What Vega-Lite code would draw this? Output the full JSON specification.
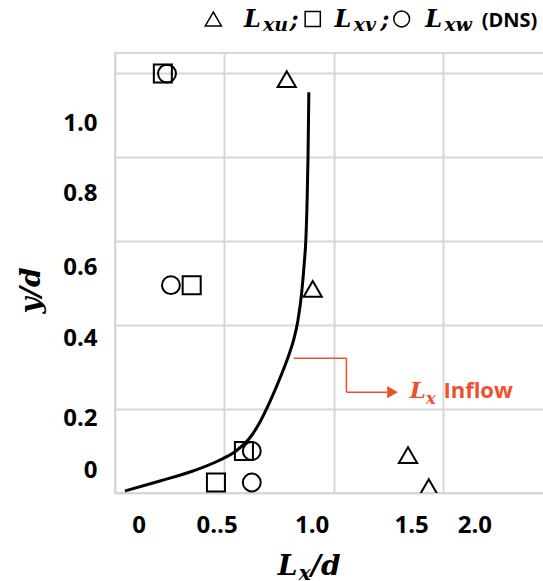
{
  "$schema": "https://vega.github.io/schema/vega-lite/v6.json",
  "width": 437,
  "height": 440,
  "autosize": "none",
  "padding": {"left": 115, "top": 53, "right": 0, "bottom": 88},
  "background": "white",
  "config": {"view": {"stroke": "#d4d8db", "strokeWidth": 2}},
  "resolve": {"axis": {"x": "independent", "y": "independent"}},
  "layer": [
    {
      "data": {"values": [
        {"Lx": 0.786, "yd": 0.986, "comp": "Lxu"},
        {"Lx": 0.905, "yd": 0.486, "comp": "Lxu"},
        {"Lx": 1.341, "yd": 0.090, "comp": "Lxu"},
        {"Lx": 1.436, "yd": 0.014, "comp": "Lxu"},
        {"Lx": 0.219, "yd": 0.999, "comp": "Lxv"},
        {"Lx": 0.351, "yd": 0.495, "comp": "Lxv"},
        {"Lx": 0.590, "yd": 0.100, "comp": "Lxv"},
        {"Lx": 0.462, "yd": 0.025, "comp": "Lxv"},
        {"Lx": 0.238, "yd": 0.999, "comp": "Lxw"},
        {"Lx": 0.256, "yd": 0.495, "comp": "Lxw"},
        {"Lx": 0.626, "yd": 0.100, "comp": "Lxw"},
        {"Lx": 0.626, "yd": 0.025, "comp": "Lxw"}
      ]},
      "mark": {"type": "point", "filled": false, "strokeWidth": 2, "color": "black", "opacity": 1, "clip": true},
      "encoding": {
        "x": {"field": "Lx", "type": "quantitative", "scale": {"domain": [0, 2], "nice": false, "zero": false},
              "axis": {"values": [0, 0.5, 1, 1.5, 2], "labels": false, "ticks": false, "domain": false, "grid": true, "gridColor": "#d4d8db", "gridWidth": 2, "title": null, "orient": "bottom"}},
        "y": {"field": "yd", "type": "quantitative", "scale": {"domain": [0, 1.048], "nice": false, "zero": false},
              "axis": {"values": [0, 0.2, 0.4, 0.6, 0.8, 1.0], "labels": false, "ticks": false, "domain": false, "grid": true, "gridColor": "#d4d8db", "gridWidth": 2, "title": null, "orient": "left"}},
        "shape": {"field": "comp", "type": "nominal", "scale": {"domain": ["Lxu", "Lxv", "Lxw"], "range": ["triangle-up", "square", "circle"]}, "legend": null},
        "size": {"field": "comp", "type": "nominal", "scale": {"domain": ["Lxu", "Lxv", "Lxw"], "range": [330, 320, 270]}, "legend": null}
      }
    },
    {
      "data": {"values": [
        {"Lx": 0.0457, "yd": 0.0048},
        {"Lx": 0.2058, "yd": 0.0286},
        {"Lx": 0.3567, "yd": 0.0524},
        {"Lx": 0.4710, "yd": 0.0762},
        {"Lx": 0.5533, "yd": 0.1000},
        {"Lx": 0.6127, "yd": 0.1286},
        {"Lx": 0.6584, "yd": 0.1643},
        {"Lx": 0.6996, "yd": 0.2071},
        {"Lx": 0.7362, "yd": 0.2500},
        {"Lx": 0.7682, "yd": 0.2905},
        {"Lx": 0.7956, "yd": 0.3286},
        {"Lx": 0.8185, "yd": 0.3667},
        {"Lx": 0.8368, "yd": 0.4095},
        {"Lx": 0.8551, "yd": 0.4810},
        {"Lx": 0.8665, "yd": 0.5500},
        {"Lx": 0.8734, "yd": 0.6024},
        {"Lx": 0.8793, "yd": 0.6976},
        {"Lx": 0.8834, "yd": 0.8000},
        {"Lx": 0.8871, "yd": 0.9548}
      ]},
      "mark": {"type": "line", "color": "black", "strokeWidth": 3, "interpolate": "monotone"},
      "encoding": {
        "x": {"field": "Lx", "type": "quantitative",
              "axis": {"orient": "bottom", "values": [0.108, 0.465, 0.9, 1.355, 1.645], "grid": false, "ticks": false, "tickSize": 0, "domain": false, "title": null,
                       "labelExpr": "datum.value < 0.2 ? '0' : datum.value < 0.6 ? '0..5' : datum.value < 1.1 ? '1.0' : datum.value < 1.5 ? '1.5' : '2.0'",
                       "labelFont": "Open Sans", "labelFontWeight": "bold", "labelFontSize": 24, "labelColor": "black", "labelPadding": 20, "labelFlush": false, "labelOverlap": false}},
        "y": {"field": "yd", "type": "quantitative",
              "axis": {"orient": "left", "values": [0.054, 0.178, 0.368, 0.536, 0.714, 0.881], "grid": false, "ticks": false, "tickSize": 0, "domain": false,
                       "labelExpr": "datum.value < 0.1 ? '0' : datum.value < 0.25 ? '0.2' : datum.value < 0.45 ? '0.4' : datum.value < 0.6 ? '0.6' : datum.value < 0.8 ? '0.8' : '1.0'",
                       "labelFont": "Open Sans", "labelFontWeight": "bold", "labelFontSize": 24, "labelColor": "black", "labelPadding": 18, "labelFlush": false, "labelOverlap": false, "labelBaseline": "middle",
                       "title": "y/d", "titleFont": "DejaVu Serif", "titleFontStyle": "italic", "titleFontWeight": "bold", "titleFontSize": 28, "titleColor": "black", "titlePadding": 17, "titleY": 237}}
      }
    },
    {
      "data": {"values": [{}]},
      "layer": [
        {"mark": {"type": "rule", "color": "#ef4f2b", "strokeWidth": 1.5},
         "encoding": {"x": {"datum": 0.818, "axis": null}, "x2": {"datum": 1.059}, "y": {"datum": 0.321, "axis": null}}},
        {"mark": {"type": "rule", "color": "#ef4f2b", "strokeWidth": 1.5},
         "encoding": {"x": {"datum": 1.059, "axis": null}, "y": {"datum": 0.321, "axis": null}, "y2": {"datum": 0.240}}},
        {"mark": {"type": "rule", "color": "#ef4f2b", "strokeWidth": 1.5},
         "encoding": {"x": {"datum": 1.059, "axis": null}, "x2": {"datum": 1.245}, "y": {"datum": 0.240, "axis": null}}},
        {"mark": {"type": "point", "shape": "triangle-right", "filled": true, "color": "#ef4f2b", "opacity": 1, "size": 150},
         "encoding": {"x": {"datum": 1.270, "axis": null}, "y": {"datum": 0.240, "axis": null}}},
        {"mark": {"type": "text", "text": "L", "font": "DejaVu Serif", "fontStyle": "italic", "fontWeight": "bold", "fontSize": 23, "align": "left", "baseline": "alphabetic", "color": "#ef4f2b"},
         "encoding": {"x": {"datum": 1.349, "axis": null}, "y": {"datum": 0.226, "axis": null}}},
        {"mark": {"type": "text", "text": "x", "font": "DejaVu Serif", "fontStyle": "italic", "fontWeight": "bold", "fontSize": 17, "align": "left", "baseline": "alphabetic", "color": "#ef4f2b"},
         "encoding": {"x": {"datum": 1.422, "axis": null}, "y": {"datum": 0.212, "axis": null}}},
        {"mark": {"type": "text", "text": "Inflow", "font": "Open Sans", "fontWeight": "bold", "fontSize": 22, "align": "left", "baseline": "alphabetic", "color": "#ef4f2b"},
         "encoding": {"x": {"datum": 1.503, "axis": null}, "y": {"datum": 0.226, "axis": null}}},

        {"mark": {"type": "point", "shape": "triangle-up", "filled": false, "color": "black", "strokeWidth": 1.5, "opacity": 1, "size": 260},
         "encoding": {"x": {"datum": 0.450, "axis": null}, "y": {"datum": 1.129, "axis": null}}},
        {"mark": {"type": "text", "text": "L", "font": "DejaVu Serif", "fontStyle": "italic", "fontWeight": "bold", "fontSize": 24, "align": "left", "baseline": "alphabetic", "color": "black"},
         "encoding": {"x": {"datum": 0.590, "axis": null}, "y": {"datum": 1.110, "axis": null}}},
        {"mark": {"type": "text", "text": "xu", "font": "DejaVu Serif", "fontStyle": "italic", "fontWeight": "bold", "fontSize": 19, "align": "left", "baseline": "alphabetic", "color": "black"},
         "encoding": {"x": {"datum": 0.677, "axis": null}, "y": {"datum": 1.100, "axis": null}}},
        {"mark": {"type": "text", "text": ";", "font": "DejaVu Serif", "fontStyle": "italic", "fontWeight": "bold", "fontSize": 24, "align": "left", "baseline": "alphabetic", "color": "black"},
         "encoding": {"x": {"datum": 0.800, "axis": null}, "y": {"datum": 1.110, "axis": null}}},
        {"mark": {"type": "point", "shape": "square", "filled": false, "color": "black", "strokeWidth": 1.5, "opacity": 1, "size": 230},
         "encoding": {"x": {"datum": 0.905, "axis": null}, "y": {"datum": 1.129, "axis": null}}},
        {"mark": {"type": "text", "text": "L", "font": "DejaVu Serif", "fontStyle": "italic", "fontWeight": "bold", "fontSize": 24, "align": "left", "baseline": "alphabetic", "color": "black"},
         "encoding": {"x": {"datum": 1.005, "axis": null}, "y": {"datum": 1.110, "axis": null}}},
        {"mark": {"type": "text", "text": "xv", "font": "DejaVu Serif", "fontStyle": "italic", "fontWeight": "bold", "fontSize": 19, "align": "left", "baseline": "alphabetic", "color": "black"},
         "encoding": {"x": {"datum": 1.092, "axis": null}, "y": {"datum": 1.100, "axis": null}}},
        {"mark": {"type": "text", "text": ";", "font": "DejaVu Serif", "fontStyle": "italic", "fontWeight": "bold", "fontSize": 24, "align": "left", "baseline": "alphabetic", "color": "black"},
         "encoding": {"x": {"datum": 1.215, "axis": null}, "y": {"datum": 1.110, "axis": null}}},
        {"mark": {"type": "point", "shape": "circle", "filled": false, "color": "black", "strokeWidth": 1.5, "opacity": 1, "size": 250},
         "encoding": {"x": {"datum": 1.312, "axis": null}, "y": {"datum": 1.129, "axis": null}}},
        {"mark": {"type": "text", "text": "L", "font": "DejaVu Serif", "fontStyle": "italic", "fontWeight": "bold", "fontSize": 24, "align": "left", "baseline": "alphabetic", "color": "black"},
         "encoding": {"x": {"datum": 1.420, "axis": null}, "y": {"datum": 1.110, "axis": null}}},
        {"mark": {"type": "text", "text": "xw", "font": "DejaVu Serif", "fontStyle": "italic", "fontWeight": "bold", "fontSize": 19, "align": "left", "baseline": "alphabetic", "color": "black"},
         "encoding": {"x": {"datum": 1.507, "axis": null}, "y": {"datum": 1.100, "axis": null}}},
        {"mark": {"type": "text", "text": "(DNS)", "font": "Open Sans", "fontWeight": "bold", "fontSize": 20, "align": "left", "baseline": "alphabetic", "color": "black"},
         "encoding": {"x": {"datum": 1.678, "axis": null}, "y": {"datum": 1.110, "axis": null}}},

        {"mark": {"type": "text", "text": "L", "font": "DejaVu Serif", "fontStyle": "italic", "fontWeight": "bold", "fontSize": 28, "align": "left", "baseline": "alphabetic", "color": "black"},
         "encoding": {"x": {"datum": 0.745, "axis": null}, "y": {"datum": -0.195, "axis": null}}},
        {"mark": {"type": "text", "text": "x", "font": "DejaVu Serif", "fontStyle": "italic", "fontWeight": "bold", "fontSize": 20, "align": "left", "baseline": "alphabetic", "color": "black"},
         "encoding": {"x": {"datum": 0.841, "axis": null}, "y": {"datum": -0.208, "axis": null}}},
        {"mark": {"type": "text", "text": "/d", "font": "DejaVu Serif", "fontStyle": "italic", "fontWeight": "bold", "fontSize": 28, "align": "left", "baseline": "alphabetic", "color": "black"},
         "encoding": {"x": {"datum": 0.896, "axis": null}, "y": {"datum": -0.195, "axis": null}}}
      ]
    }
  ]
}
